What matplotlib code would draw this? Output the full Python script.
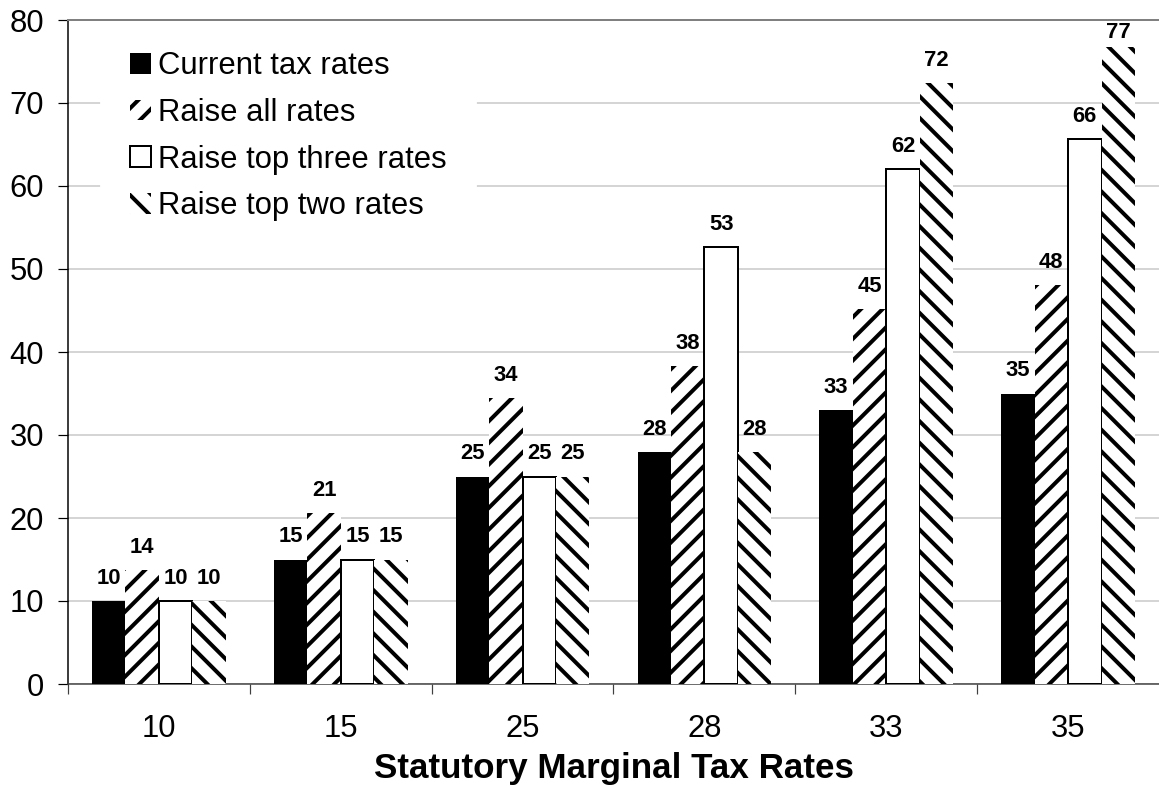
import numpy as np
import matplotlib
matplotlib.use("Agg")
import matplotlib.pyplot as plt

# data
categories = ["10", "15", "25", "28", "33", "35"]
current = [10, 15, 25, 28, 33, 35]
raise_all = [13.75, 20.6, 34.4, 38.3, 45.2, 48.1]
raise_top3 = [10, 15, 25, 52.6, 62, 65.7]
raise_top2 = [10, 15, 25, 28, 72.4, 76.8]
series_names = ["Current tax rates", "Raise all rates", "Raise top three rates", "Raise top two rates"]

DPI = 130
W, H = 1159, 787


def pt(px):
    return px * 72.0 / DPI


plt.rcParams['font.family'] = ['Liberation Sans', 'DejaVu Sans']
plt.rcParams['hatch.linewidth'] = pt(4.0)

fig = plt.figure(figsize=(W / DPI, H / DPI), dpi=DPI)
ax = fig.add_axes([68 / W, (H - 684) / H, (W - 68) / W, (684 - 20) / H])

x = np.arange(len(categories))
bw = 0.184
offs = [-1.5 * bw, -0.5 * bw, 0.5 * bw, 1.5 * bw]

styles = [
    dict(color="black", edgecolor="black", linewidth=0),
    dict(color="white", edgecolor="black", linewidth=0, hatch="//"),
    dict(color="white", edgecolor="black", linewidth=pt(2)),
    dict(color="white", edgecolor="black", linewidth=0, hatch="\\\\"),
]
data = [current, raise_all, raise_top3, raise_top2]

px_unit = 80.0 / 664  # data units per pixel
for vals, off, st, name in zip(data, offs, styles, series_names):
    bars = ax.bar(x + off, vals, bw, label=name, zorder=3, **st)
    for b, v in zip(bars, vals):
        ty = min(v + 17 * px_unit, 77.8)
        ax.text(b.get_x() + b.get_width() / 2, ty, f"{v:.0f}",
                ha="center", va="baseline", fontsize=pt(22),
                fontweight="bold", zorder=4)

ax.set_xlim(-0.5, 5.5)
ax.set_ylim(0, 80)
ax.set_yticks(range(0, 81, 10))
ax.yaxis.grid(True, color="#c8c8c8", linewidth=pt(1.5), zorder=0)
ax.set_axisbelow(True)

# ticks on category boundaries, labels at centres
ax.set_xticks(np.arange(-0.5, 5.5, 1))
ax.set_xticklabels([])
ax.set_xticks(x, minor=True)
ax.set_xticklabels(categories, minor=True)
ax.tick_params(axis="x", which="major", length=pt(10), width=pt(1.2), color="#404040")
ax.tick_params(axis="x", which="minor", length=0, pad=pt(30), labelsize=pt(31))
ax.tick_params(axis="y", length=pt(10), width=pt(1.2), labelsize=pt(31), pad=pt(14))

ax.spines["right"].set_visible(False)
ax.spines["top"].set_color("#808080")
ax.spines["top"].set_linewidth(pt(2))
ax.spines["top"].set_zorder(6)
ax.spines["left"].set_linewidth(pt(1.5))
ax.spines["bottom"].set_color("#404040")
ax.spines["bottom"].set_linewidth(pt(1.5))

ax.set_xlabel("Statutory Marginal Tax Rates", fontsize=pt(35), fontweight="bold",
              labelpad=pt(8))

leg = ax.legend(loc="upper left", bbox_to_anchor=(33 / (W - 68), 0.9975),
                fontsize=pt(31), frameon=True, fancybox=False,
                handlelength=0.65, handleheight=0.65, handletextpad=0.23,
                labelspacing=0.54, borderpad=0.95, borderaxespad=0)
leg.get_frame().set_facecolor("white")
leg.get_frame().set_edgecolor("white")
leg.get_frame().set_alpha(1)
leg.set_zorder(5)

fig.savefig("out.png", dpi=DPI)
